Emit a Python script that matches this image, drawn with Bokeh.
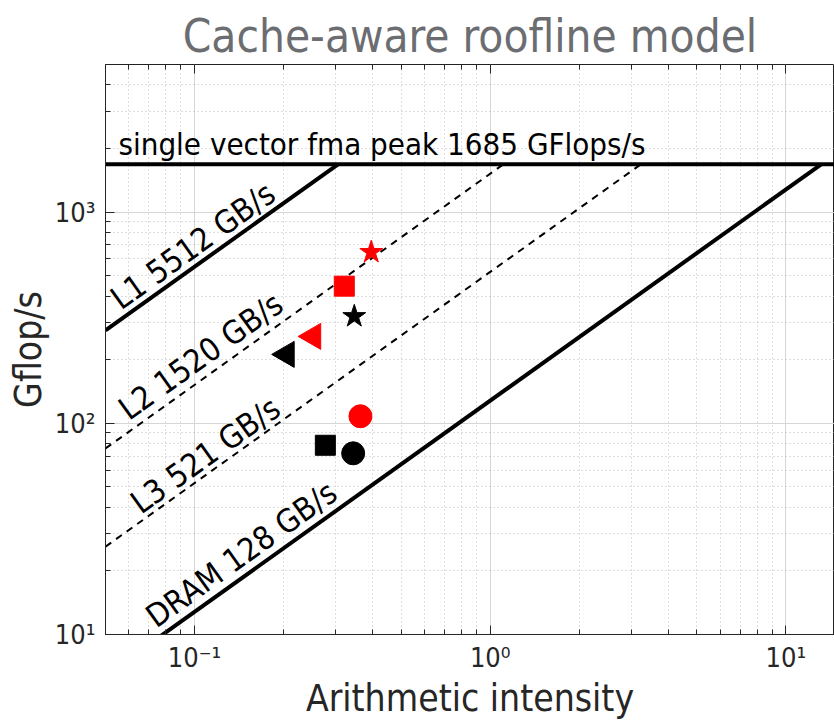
import math
from bokeh.plotting import figure
from bokeh.models import FixedTicker, LogAxis, Range1d
from bokeh.core.properties import value
from bokeh.embed import file_html
from bokeh.resources import INLINE

# ---------------- data ----------------
roof_names = ["L1 5512 GB/s", "L2 1520 GB/s", "L3 521 GB/s", "DRAM 128 GB/s"]
roof_bandwidth = [5512, 1520, 521, 128]          # GB/s
roof_dashed = [False, True, True, False]
peak_gflops = 1685
peak_label = "single vector fma peak 1685 GFlops/s"

shapes = ["star", "square", "triangle", "circle"]
red_intensity = [0.396, 0.321, 0.252, 0.364]
red_gflops = [646, 446, 258, 108]
black_intensity = [0.347, 0.277, 0.205, 0.344]
black_gflops = [321, 78.7, 212, 72.1]

x_major = [0.1, 1, 10]
x_minor = [0.05, 0.06, 0.07, 0.08, 0.09, 0.2, 0.3, 0.4, 0.5, 0.6, 0.7, 0.8, 0.9,
           2, 3, 4, 5, 6, 7, 8, 9]
x_labels = ["10\u207b\u00b9", "10\u2070", "10\u00b9"]
y_major = [10, 100, 1000]
y_minor = [20, 30, 40, 50, 60, 70, 80, 90, 200, 300, 400, 500, 600, 700, 800, 900,
           2000, 3000, 4000, 5000]
y_labels = ["10\u00b9", "10\u00b2", "10\u00b3"]

# ---------------- layout ----------------
XMIN, XMAX = 0.05, 14.6
YMIN, YMAX = 10, 5000
W, H = 834, 722
BL, BR, BT, BB = 105, 0, 64, 87
FW, FH = W - BL - BR, H - BT - BB
FONT = "DejaVu Sans Condensed"

px_dec_x = FW / math.log10(XMAX / XMIN)
px_dec_y = FH / math.log10(YMAX / YMIN)
angle = math.degrees(math.atan(px_dec_y / px_dec_x))

p = figure(width=W, height=H, x_axis_type="log", y_axis_type="log",
           x_range=Range1d(XMIN, XMAX), y_range=Range1d(YMIN, YMAX),
           min_border_left=BL, min_border_right=BR, min_border_top=BT,
           min_border_bottom=BB, output_backend="svg", toolbar_location=None,
           title="Cache-aware roofline model")
p.background_fill_color = "white"
p.border_fill_color = "white"
p.outline_line_color = "#222222"
p.outline_line_width = 1

p.title.align = "center"
p.title.text_font = FONT
p.title.text_font_size = "45.5px"
p.title.text_font_style = "normal"
p.title.text_color = "#6b6d71"
p.title.standoff = 4

xt = FixedTicker(ticks=x_major, minor_ticks=x_minor)
yt = FixedTicker(ticks=y_major, minor_ticks=y_minor)
p.xaxis.ticker = xt
p.yaxis.ticker = yt
p.xaxis.major_label_overrides = {t: l for t, l in zip(x_major, x_labels)}
p.yaxis.major_label_overrides = {t: l for t, l in zip(y_major, y_labels)}

for ax in (p.xaxis[0], p.yaxis[0]):
    ax.major_tick_in = 9
    ax.major_tick_out = 0
    ax.minor_tick_in = 5
    ax.minor_tick_out = 0
    ax.axis_line_color = "#262626"
    ax.major_tick_line_color = "#262626"
    ax.minor_tick_line_color = "#262626"
    ax.major_label_text_font = FONT
    ax.major_label_text_font_size = "27px"
    ax.major_label_text_color = "#262626"
    ax.axis_label_text_font = FONT
    ax.axis_label_text_font_size = "37px"
    ax.axis_label_text_font_style = "normal"
    ax.axis_label_text_color = "#262626"

p.xaxis.axis_label = "Arithmetic intensity"
p.yaxis.axis_label = "Gflop/s"
p.xaxis.major_label_standoff = 7
p.yaxis.major_label_standoff = 10
p.xaxis.axis_label_standoff = 1
p.yaxis.axis_label_standoff = 2

top = LogAxis(ticker=FixedTicker(ticks=x_major, minor_ticks=x_minor),
              major_label_text_font_size="1px", major_label_text_color=None,
              major_label_standoff=0,
              axis_line_color=None, major_tick_in=9, major_tick_out=0,
              minor_tick_in=5, minor_tick_out=0,
              major_tick_line_color="#262626", minor_tick_line_color="#262626")
p.add_layout(top, "above")

for g in (p.xgrid[0], p.ygrid[0]):
    g.grid_line_color = "#d6d6d6"
    g.grid_line_width = 1
    g.minor_grid_line_color = "#bdbdbd"
    g.minor_grid_line_dash = "1 3"
    g.minor_grid_line_width = 1

# peak roof
p.line([XMIN, XMAX], [peak_gflops, peak_gflops], line_color="black", line_width=4)

# bandwidth roofs
for bw, dashed in zip(roof_bandwidth, roof_dashed):
    x_end = peak_gflops / bw
    xs = [XMIN, x_end]
    ys = [bw * XMIN, peak_gflops]
    if dashed:
        p.line(xs, ys, line_color="black", line_width=2, line_dash="7 6")
    else:
        p.line(xs, ys, line_color="black", line_width=4)

# roof labels (baseline-left anchor on a line parallel to the roof)
label_x = [0.0537, 0.0571, 0.0627, 0.0706]
label_shift_px = [22, 24, 20, 24]
lx, ly = [], []
for bw, x0, s in zip(roof_bandwidth, label_x, label_shift_px):
    lx.append(x0)
    ly.append(bw * x0 * 10 ** (s / px_dec_y))
p.text(x=lx, y=ly, text=roof_names, angle=angle, angle_units="deg",
       text_font=value(FONT), text_font_size="32px", text_color="black",
       text_align="left", text_baseline="alphabetic")

p.text(x=[0.0553], y=[peak_gflops * 10 ** (20 / px_dec_y)], text=[peak_label],
       text_font=value(FONT), text_font_size="31px", text_color="black",
       text_align="left", text_baseline="alphabetic")

# measured kernels
style = {"star": dict(size=24, angle=0.0),
         "square": dict(size=20, angle=0.0),
         "triangle": dict(size=26, angle=math.pi / 2),
         "circle": dict(size=23, angle=0.0)}
for color, xs, ys in (("red", red_intensity, red_gflops),
                      ("black", black_intensity, black_gflops)):
    for shp, x, y in zip(shapes, xs, ys):
        p.scatter([x], [y], marker=shp, size=style[shp]["size"],
                  angle=style[shp]["angle"], fill_color=color, line_color=color)

open("out.html", "w").write(file_html(p, INLINE))
